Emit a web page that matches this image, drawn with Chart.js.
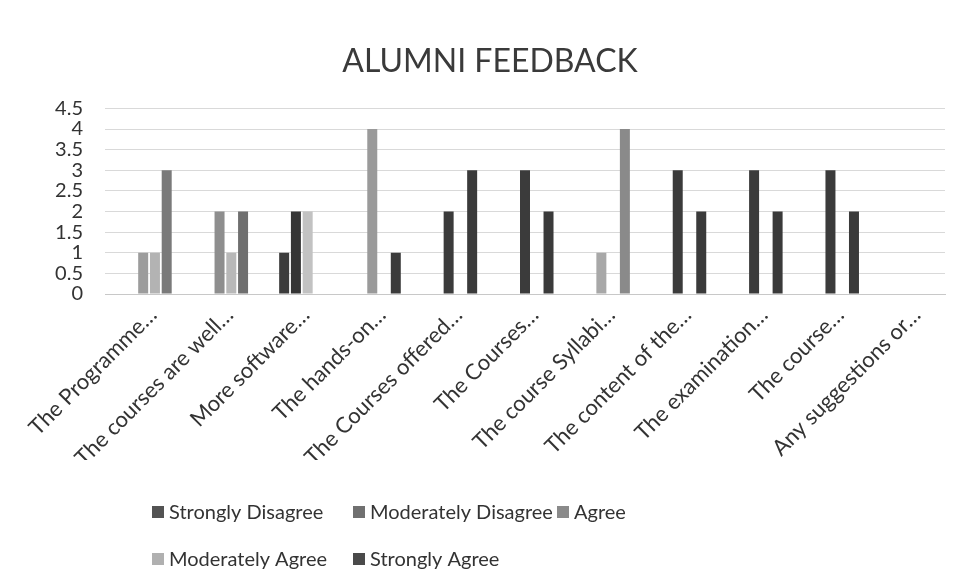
<!DOCTYPE html>
<html>
<head>
<meta charset="utf-8">
<title>Alumni Feedback</title>
<script src="https://cdn.jsdelivr.net/npm/chart.js@4/dist/chart.umd.min.js"></script>
<style>
  html, body { margin: 0; padding: 0; background: #ffffff; }
  #wrap { position: relative; width: 966px; height: 585px; }
</style>
</head>
<body>
<div id="wrap"><canvas id="chart" width="966" height="585"></canvas></div>
<script>
// Survey questions (truncated as shown on the axis)
const categories = [
  'The Programme…',
  'The courses are well…',
  'More software…',
  'The hands-on…',
  'The Courses offered…',
  'The Courses…',
  'The course Syllabi…',
  'The content of the…',
  'The examination…',
  'The course…',
  'Any suggestions or…'
];

const seriesNames = ['Strongly Disagree', 'Moderately Disagree', 'Agree', 'Moderately Agree', 'Strongly Agree'];

// Number of responses per rating
const stronglyDisagree   = [0, 0, 0, 0, 0, 0, 0, 0, 0, 0, 0];
const moderatelyDisagree = [0, 0, 1, 0, 0, 0, 0, 0, 0, 0, 0];
const agree              = [1, 2, 2, 4, 2, 3, 1, 3, 3, 3, 0];
const moderatelyAgree    = [1, 1, 2, 0, 0, 0, 0, 0, 0, 0, 0];
const stronglyAgree      = [3, 2, 0, 1, 3, 2, 4, 2, 2, 2, 0];

const yTickValues = [0, 0.5, 1, 1.5, 2, 2.5, 3, 3.5, 4, 4.5];

// Greyscale print tones
const legendColors = ['#535353', '#707070', '#8a8a8a', '#b0b0b0', '#4a4a4a'];
const barColors = [
  legendColors[0],
  '#3c3c3c',
  ['#9c9c9c', '#8e8e8e', '#353535', '#9a9a9a', '#3b3b3b', '#3b3b3b', '#a8a8a8', '#3b3b3b', '#3b3b3b', '#3b3b3b', '#3b3b3b'],
  ['#b3b3b3', '#b8b8b8', '#c2c2c2', '#b3b3b3', '#b3b3b3', '#b3b3b3', '#b3b3b3', '#b3b3b3', '#b3b3b3', '#b3b3b3', '#b3b3b3'],
  ['#7a7a7a', '#6f6f6f', '#3a3a3a', '#3b3b3b', '#3a3a3a', '#3a3a3a', '#8a8a8a', '#3a3a3a', '#3a3a3a', '#3a3a3a', '#3a3a3a']
];

const FONT = 'Lato, "Open Sans", sans-serif';
const TEXT = '#333333';

// Legend laid out as a grid under the axis
const gridLegend = {
  id: 'gridLegend',
  afterDraw(chart) {
    const ctx = chart.ctx;
    const cols = [152, 353, 557];
    const rows = [512, 559];
    ctx.save();
    ctx.font = '20px ' + FONT;
    ctx.textBaseline = 'middle';
    ctx.textAlign = 'left';
    chart.data.datasets.forEach((ds, i) => {
      const x = cols[i % 3];
      const y = rows[Math.floor(i / 3)];
      ctx.fillStyle = legendColors[i];
      ctx.fillRect(x, y - 6, 12, 12);
      ctx.fillStyle = TEXT;
      ctx.fillText(ds.label, x + 17, y + 1);
    });
    ctx.restore();
  }
};

const seriesData = [stronglyDisagree, moderatelyDisagree, agree, moderatelyAgree, stronglyAgree];

new Chart(document.getElementById('chart'), {
  type: 'bar',
  data: {
    labels: categories,
    datasets: seriesNames.map((name, i) => ({
      label: name,
      data: seriesData[i],
      backgroundColor: barColors[i],
      borderWidth: 0,
      categoryPercentage: 0.77,
      barPercentage: 0.85
    }))
  },
  options: {
    responsive: false,
    animation: false,
    devicePixelRatio: 1,
    layout: { padding: { left: 35, right: 21, top: 5, bottom: 125 } },
    plugins: {
      legend: { display: false },
      tooltip: { enabled: false },
      title: {
        display: true,
        text: 'ALUMNI FEEDBACK',
        color: '#3a3a3a',
        font: { family: FONT, size: 32, weight: 'normal' },
        padding: { top: 37, bottom: 28 }
      }
    },
    scales: {
      x: {
        grid: { display: false },
        border: { display: true, color: '#c8c8c8' },
        ticks: {
          color: TEXT,
          font: { family: FONT, size: 22 },
          minRotation: 45,
          maxRotation: 45,
          autoSkip: false,
          padding: 0,
          labelOffset: 10
        },
        afterFit(scale) { scale.height = 166; }
      },
      y: {
        min: 0,
        max: 4.5,
        grid: { color: '#d9d9d9', drawTicks: false },
        border: { display: false },
        afterBuildTicks(scale) { scale.ticks = yTickValues.map(v => ({ value: v })); },
        ticks: {
          color: TEXT,
          font: { family: FONT, size: 20 },
          padding: 22,
          autoSkip: false,
          callback: (v) => String(v)
        },
        afterFit(scale) { scale.width = 70; }
      }
    }
  },
  plugins: [gridLegend]
});
</script>
</body>
</html>
